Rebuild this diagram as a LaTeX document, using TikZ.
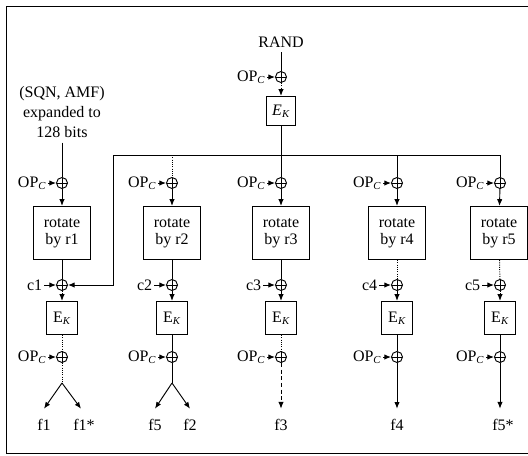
\documentclass[tikz,border=0pt]{standalone}
\usepackage{fontspec}
\setmainfont{Liberation Serif}
\usetikzlibrary{arrows.meta, positioning}
\newcommand{\opc}{OP\textsubscript{\itshape C}}
\newcommand{\ek}{E\textsubscript{\itshape K}}

\begin{document}
\begin{tikzpicture}[
    x=0.75pt, y=-0.75pt,
    font=\fontsize{12}{13}\selectfont,
    line width=0.7pt,
    xorop/.style={
        circle,
        draw,
        minimum size=8.25pt,
        inner sep=0pt,
        path picture={
            \draw[line width=0.6pt] (path picture bounding box.north) -- (path picture bounding box.south)
                  (path picture bounding box.west) -- (path picture bounding box.east);
        }
    },
    rotbox/.style={rectangle, draw, minimum width=43pt, minimum height=40pt, align=center},
    ekbox/.style={rectangle, draw, minimum width=23pt, minimum height=25pt, inner sep=1pt},
    lbl/.style={inner sep=1pt},
    fout/.style={inner sep=1pt, outer sep=7pt},
    flow/.style={-{Latex[length=5pt, width=4pt]}},
    faint/.style={densely dotted}
]
    \useasboundingbox (0,0) rectangle (528,455);

    % Frame
    \draw (528,6) -- (6,6) -- (6,453) -- (528,453);

    % RAND path (top)
    \node (rand) at (281,42) {RAND};
    \node[xorop] (op0) at (281,77) {};
    \node[ekbox, minimum height=22pt, minimum width=22pt] (ek0) at (281,111) {\textit{E}\textsubscript{\itshape K}};
    \node[lbl, left=6pt of op0] (opl0) {\opc};

    % SQN input
    \node[align=center, font=\fontsize{12}{15}\selectfont] (sqn) at (62,112) {(SQN, AMF)\\expanded to\\128 bits};

    % Input XOR row
    \node[xorop] (op1) at (62,183) {};
    \node[xorop] (op2) at (172,183) {};
    \node[xorop] (op3) at (281,183) {};
    \node[xorop] (op4) at (397,183) {};
    \node[xorop] (op5) at (500,183) {};
    \node[lbl, left=6pt of op1] (opl1) {\opc};
    \node[lbl, left=6pt of op2] (opl2) {\opc};
    \node[lbl, left=6pt of op3] (opl3) {\opc};
    \node[lbl, left=6pt of op4] (opl4) {\opc};
    \node[lbl, left=6pt of op5] (opl5) {\opc};

    % Rotations
    \node[rotbox] (rot1) at (62,233) {rotate\\by r1};
    \node[rotbox] (rot2) at (172,233) {rotate\\by r2};
    \node[rotbox] (rot3) at (281,233) {rotate\\by r3};
    \node[rotbox] (rot4) at (397,233) {rotate\\by r4};
    \node[rotbox] (rot5) at (499,233) {rotate\\by r5};

    % Constant XOR row
    \node[xorop] (xc1) at (62,285) {};
    \node[xorop] (xc2) at (172,285) {};
    \node[xorop] (xc3) at (281,285) {};
    \node[xorop] (xc4) at (397,285) {};
    \node[xorop] (xc5) at (500,285) {};
    \node[lbl, left=9pt of xc1] (cl1) {c1};
    \node[lbl, left=9pt of xc2] (cl2) {c2};
    \node[lbl, left=9pt of xc3] (cl3) {c3};
    \node[lbl, left=9pt of xc4] (cl4) {c4};
    \node[lbl, left=9pt of xc5] (cl5) {c5};

    % Block ciphers
    \node[ekbox] (ek1) at (62,318) {\ek};
    \node[ekbox] (ek2) at (172,318) {\ek};
    \node[ekbox] (ek3) at (281,318) {\ek};
    \node[ekbox] (ek4) at (397,318) {\ek};
    \node[ekbox] (ek5) at (500,318) {\ek};

    % Output XOR row
    \node[xorop] (out1) at (62,357) {};
    \node[xorop] (out2) at (172,357) {};
    \node[xorop] (out3) at (281,357) {};
    \node[xorop] (out4) at (397,357) {};
    \node[xorop] (out5) at (500,357) {};
    \node[lbl, left=6pt of out1] (oql1) {\opc};
    \node[lbl, left=6pt of out2] (oql2) {\opc};
    \node[lbl, left=6pt of out3] (oql3) {\opc};
    \node[lbl, left=6pt of out4] (oql4) {\opc};
    \node[lbl, left=6pt of out5] (oql5) {\opc};

    % Outputs
    \coordinate (sp1) at (62,383);
    \coordinate (sp2) at (172,383);
    \node[fout] (f1) at (44,425) {f1};
    \node[fout] (f1s) at (84,425) {f1*};
    \node[fout] (f5) at (155,425) {f5};
    \node[fout] (f2) at (190,425) {f2};
    \node[fout] (f3) at (281,425) {f3};
    \node[fout] (f4) at (397,425) {f4};
    \node[fout] (f5s) at (503,425) {f5*};

    % Top path
    \draw (rand) -- (op0);
    \draw[flow] (opl0) -- (op0);
    \draw[flow, faint] (op0) -- (ek0);

    % Bus from top E_K
    \coordinate (busL) at (113,155);
    \coordinate (busR) at (500,155);
    \draw (ek0) -- (op3);
    \draw (busL) -- (busR) -- (op5);
    \draw[faint] (op2 |- busL) -- (op2);
    \draw (op4 |- busL) -- (op4);
    \draw[flow] (busL) |- (xc1.east);
    \draw (sqn) -- (op1);

    % Operator constants
    \draw[flow] (opl1) -- (op1);
    \draw[flow] (opl2) -- (op2);
    \draw[flow] (opl3) -- (op3);
    \draw[flow] (opl4) -- (op4);
    \draw[flow] (opl5) -- (op5);
    \draw[flow] (cl1) -- (xc1);
    \draw[flow] (cl2) -- (xc2);
    \draw[flow] (cl3) -- (xc3);
    \draw[flow] (cl4) -- (xc4);
    \draw[flow] (cl5) -- (xc5);
    \draw[flow] (oql1) -- (out1);
    \draw[flow] (oql2) -- (out2);
    \draw[flow] (oql3) -- (out3);
    \draw[flow] (oql4) -- (out4);
    \draw[flow] (oql5) -- (out5);

    % Column 1
    \draw[flow] (op1) -- (rot1);
    \draw (rot1) -- (xc1);
    \draw[flow, faint] (xc1) -- (ek1);
    \draw[faint] (ek1) -- (out1);
    \draw[faint] (out1) -- (sp1);
    \draw[flow] (sp1) -- (f1.north);
    \draw[flow] (sp1) -- (f1s.north -| 81,0);

    % Column 2
    \draw[flow] (op2) -- (rot2);
    \draw (rot2) -- (xc2);
    \draw[flow] (xc2) -- (ek2);
    \draw (ek2) -- (out2);
    \draw (out2) -- (sp2);
    \draw[flow] (sp2) -- (f5.north);
    \draw[flow] (sp2) -- (f2.north);

    % Column 3
    \draw[flow] (op3) -- (rot3);
    \draw (rot3) -- (xc3);
    \draw[flow] (xc3) -- (ek3);
    \draw[faint] (ek3) -- (out3);
    \draw[flow, densely dashed] (out3) -- (f3);

    % Column 4
    \draw[flow] (op4) -- (rot4);
    \draw[faint] (rot4) -- (xc4);
    \draw[flow] (xc4) -- (ek4);
    \draw (ek4) -- (out4);
    \draw[flow] (out4) -- (f4);

    % Column 5
    \draw[flow] (op5) -- (rot5);
    \draw[faint] (rot5) -- (xc5);
    \draw[flow, faint] (xc5) -- (ek5);
    \draw (ek5) -- (out5);
    \draw[flow] (out5) -- (f5s.north -| out5);
\end{tikzpicture}
\end{document}
